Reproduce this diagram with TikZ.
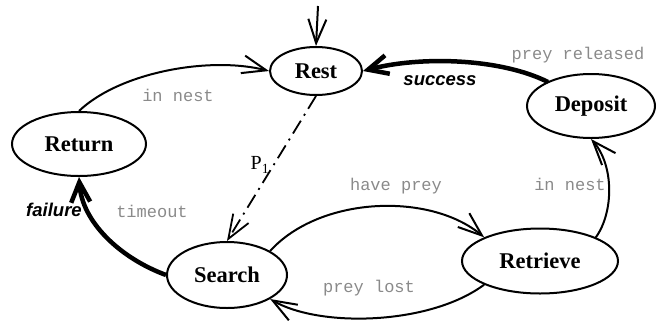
\documentclass[tikz,border=0pt]{standalone}
\usepackage{fontspec}
\setmainfont{Liberation Serif}
\newfontfamily\monofont{Liberation Mono}
\newfontfamily\arialfont{Liberation Sans}
\usetikzlibrary{arrows.meta,shapes.geometric}
\definecolor{lblgray}{HTML}{8A8A8A}
\tikzset{
  st/.style={ellipse, draw, line width=2pt, inner sep=0pt, font=\fontsize{22.5}{24}\selectfont\bfseries},
  tipthin/.style={-{Straight Barb[length=24pt 0 0,width=18pt 0 0]}},
  edge/.style={line width=2pt, tipthin},
  thickedge/.style={line width=4.5pt, -{Straight Barb[length=20pt 0 0,width=19pt 0 0]}},
  lbl/.style={text=lblgray, font=\monofont\fontsize{17}{18}\selectfont, inner sep=0pt},
  blbl/.style={font=\arialfont\fontsize{18.5}{20}\selectfont\bfseries\itshape, inner sep=0pt},
}
\begin{document}
\begin{tikzpicture}[x=1pt,y=-1pt]
\useasboundingbox (0,0) rectangle (662,322);
\node[st, minimum width=92pt, minimum height=48pt] (rest) at (316,71) {Rest};
\node[st, minimum width=134pt, minimum height=64pt] (return) at (79,144) {Return};
\node[st, minimum width=120pt, minimum height=66pt] (search) at (227,275) {Search};
\node[st, minimum width=156pt, minimum height=65pt] (retrieve) at (540,261) {Retrieve};
\node[st, minimum width=128pt, minimum height=64pt] (deposit) at (591,106) {Deposit};
\coordinate (init) at (318,6);
\coordinate (dnw) at (548,82);

\draw[edge] (init) -- (rest.north);
\draw[edge] (return.north) .. controls (120,72) and (210,56) .. (rest.west);
\draw[thickedge] (dnw) .. controls (500,58) and (420,56) .. (rest.east);
\draw[edge] (retrieve.north east) .. controls (614,212) and (614,165) .. (deposit.south);
\draw[edge] (search.north east) .. controls (320,196) and (430,192) .. (retrieve.north west);
\draw[edge] (retrieve.south west) .. controls (430,325) and (320,328) .. (search.south east);
\draw[thickedge] (search.west) .. controls (120,258) and (82,222) .. (return.south);
\draw[line width=1.8pt, dash pattern=on 15pt off 6pt on 2pt off 6pt, tipthin] (rest.south) -- (search.north);

\node[lbl] (l1) at (178,95) {in nest};
\node[lbl] (l2) at (578,55) {prey released};
\node[blbl] (l3) at (440,81) {success};
\node[lbl] (l4) at (570,184) {in nest};
\node[lbl] (l5) at (396,186) {have prey};
\node[lbl] (l6) at (369,288) {prey lost};
\node[lbl] (l7) at (152,211) {timeout};
\node[blbl] (l8) at (54,210) {failure};
\node[inner sep=0pt, font=\fontsize{20}{20}\selectfont] (l9) at (260,165) {P\textsubscript{1}};
\end{tikzpicture}
\end{document}
